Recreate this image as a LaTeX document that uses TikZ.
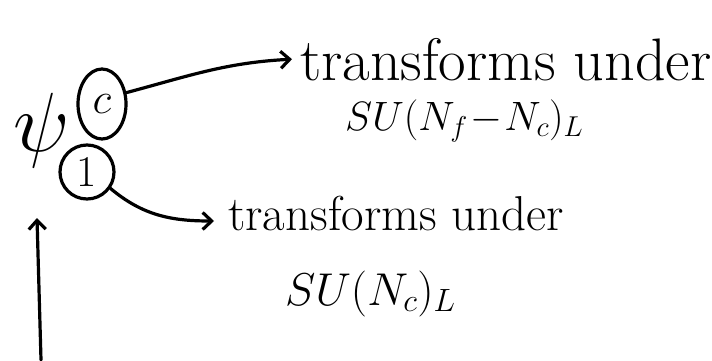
\RequirePackage{fix-cm}
\documentclass[tikz,border=0pt]{standalone}
\usetikzlibrary{arrows.meta,shapes.geometric}
\begin{document}
\begin{tikzpicture}[x=1pt,y=1pt,
  ink/.style={line width=3.2pt, line cap=round},
  arr/.style={ink, -{Straight Barb[length=9pt,width=17pt,line width=3.2pt]}},
  lbl/.style={inner sep=0pt, anchor=base west}]
\useasboundingbox (0,0) rectangle (712,360);
\node[draw, ink, ellipse, minimum width=48, minimum height=70, inner sep=0pt,
      font=\fontsize{44}{44}\selectfont] (c) at (102,256) {$c$};
\node[draw, ink, circle, minimum size=54, inner sep=0pt,
      font=\fontsize{44}{44}\selectfont] (one) at (87,188) {1};
\node[inner sep=0pt, font=\fontsize{84}{84}\selectfont] (psi) at (42,230) {$\psi$};
\node[lbl, font=\fontsize{60}{64}\selectfont] (t1) at (300,280) {transforms under};
\node[lbl, font=\fontsize{41}{44}\selectfont] (s1) at (345,230) {$SU(N_f\!-\!N_c)_L$};
\node[lbl, font=\fontsize{49}{52}\selectfont] (t2) at (228,130) {transforms under};
\node[lbl, font=\fontsize{46}{48}\selectfont] (s2) at (285,55) {$SU(N_c)_L$};
\draw[arr] (c.25) to[out=15,in=183] ([xshift=-8]t1.west);
\draw[arr] (one.-35) to[out=-40,in=180] ([xshift=-14,yshift=-8]t2.west);
\coordinate (vb) at (41,0);
\coordinate (vt) at (37,142);
\draw[arr] (vb) -- (vt);
\end{tikzpicture}
\end{document}
